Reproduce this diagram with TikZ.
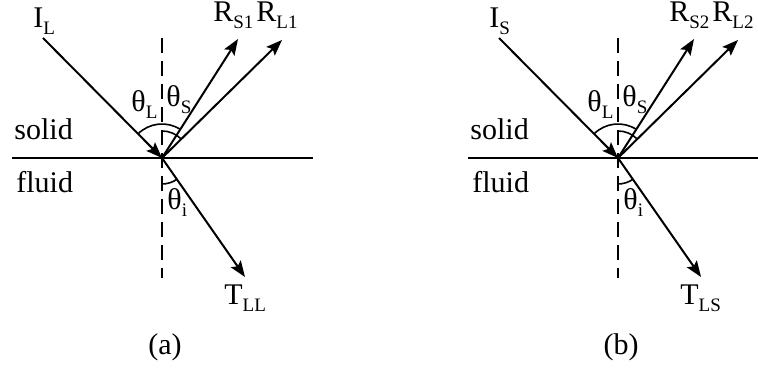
\documentclass[tikz,border=0pt]{standalone}
\usepackage{fontspec}
\setmainfont{Liberation Serif}
\usetikzlibrary{arrows.meta}

\tikzset{
	ray/.style={line width=1pt,-{Stealth[length=8pt,width=6pt,inset=1.5pt]}},
	surf/.style={line width=1pt},
	normal/.style={line width=0.9pt,dash pattern=on 7.5pt off 4pt},
	ang/.style={line width=0.8pt},
	lbl/.style={inner sep=0pt,anchor=base west}
}
\newcommand{\low}[1]{\raisebox{-3.5pt}{\fontsize{9.5}{11}\selectfont #1}}

\begin{document}
\begin{tikzpicture}[x=0.5pt,y=0.5pt,font=\fontsize{15}{18}\selectfont]
	\clip (0,0) rectangle (758,368);
	\foreach \dx/\inc/\rs/\rl/\tr/\tag in {0/L/S1/L1/LL/a,456/S/S2/L2/LS/b}{
	\begin{scope}[shift={(\dx,0)}]
		\coordinate (O\tag) at (162,210);
		\coordinate (W\tag) at (12,210);
		\coordinate (E\tag) at (313,210);
		\coordinate (N\tag) at (162,330);
		\coordinate (S\tag) at (162,90);
		\coordinate (I\tag) at (43,330);
		\coordinate (RS\tag) at (238,329);
		\coordinate (RL\tag) at (282,328);
		\coordinate (T\tag) at (245,91);
		% interface and normal
		\draw[normal] (N\tag) -- (S\tag);
		\draw[surf] (W\tag) -- (E\tag);
		% rays
		\draw[ray] (I\tag) -- (O\tag);
		\draw[ray] (O\tag) -- (RS\tag);
		\draw[ray] (O\tag) -- (RL\tag);
		\draw[ray] (O\tag) -- (T\tag);
		% angles
		\draw[ang] ([shift={(135:34)}]O\tag) arc[start angle=135,end angle=57,radius=34];
		\draw[ang] ([shift={(90:27)}]O\tag) arc[start angle=90,end angle=45,radius=27];
		\draw[ang] ([shift={(-90:26)}]O\tag) arc[start angle=-90,end angle=-55,radius=26];
		% labels
		\node[lbl] (inc\tag) at (33,340) {I\low{\inc}};
		\node[lbl] (rs\tag) at (213,346) {R\low{\rs}};
		\node[lbl] (rl\tag) at (256,346) {R\low{\rl}};
		\node[lbl] (thL\tag) at (131,256) {θ\low{L}};
		\node[lbl] (thS\tag) at (166,261) {θ\low{S}};
		\node[lbl] (sol\tag) at (14,228) {solid};
		\node[lbl] (flu\tag) at (16,175) {fluid};
		\node[lbl] (thi\tag) at (167,158) {θ\low{i}};
		\node[lbl] (tr\tag) at (224,63) {T\low{\tr}};
		\node[inner sep=0pt,anchor=base] (cap\tag) at (165,13) {(\tag)};
	\end{scope}
	}
\end{tikzpicture}
\end{document}
